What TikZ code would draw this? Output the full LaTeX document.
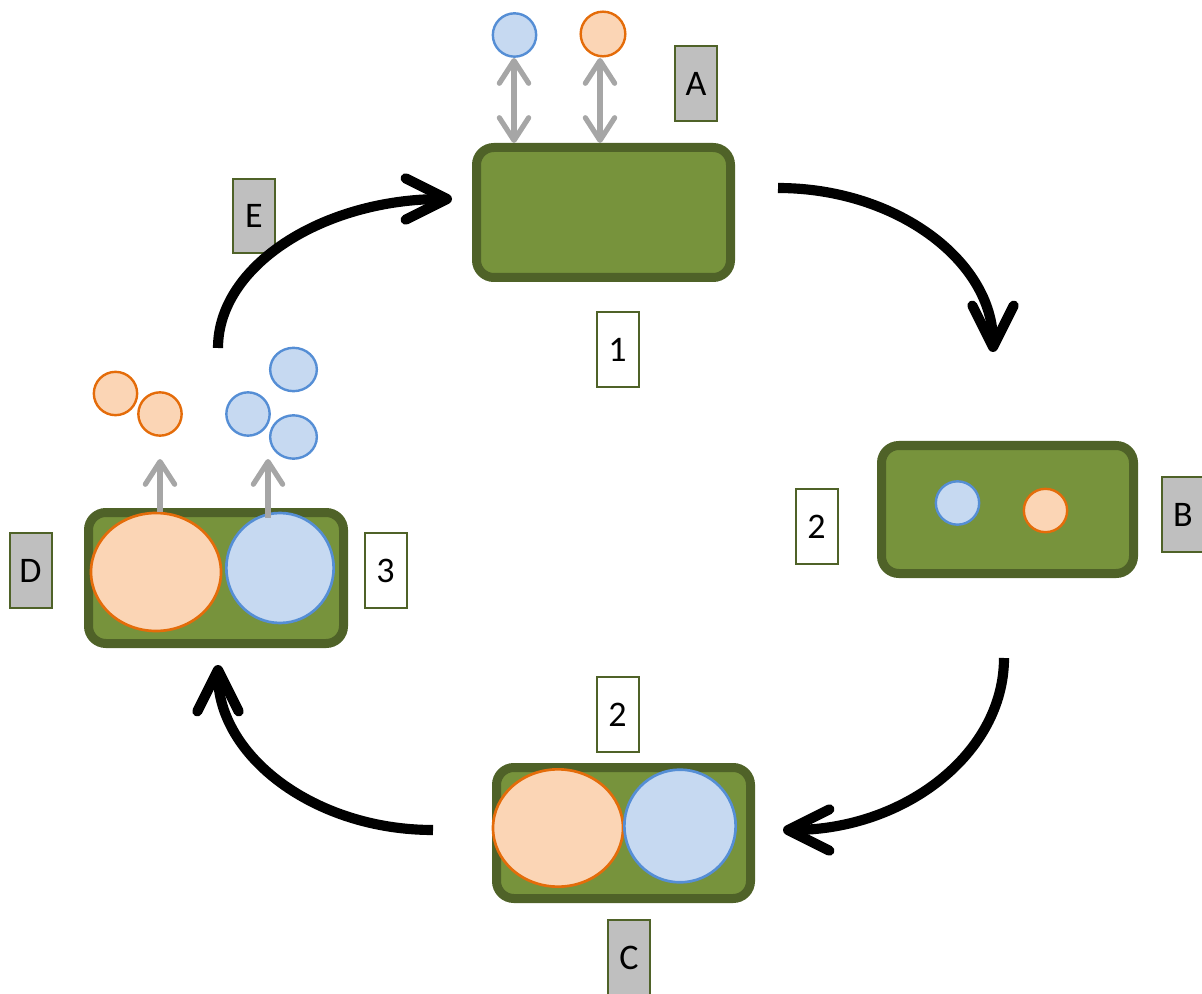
\documentclass[tikz,border=0pt]{standalone}
\usepackage{fontspec}
\setmainfont{Carlito}
\usetikzlibrary{arrows.meta,shapes.geometric}
\definecolor{gfill}{HTML}{77933C}
\definecolor{gdark}{HTML}{4F6228}
\definecolor{bfill}{HTML}{C6D9F1}
\definecolor{bline}{HTML}{558ED5}
\definecolor{ofill}{HTML}{FBD5B5}
\definecolor{oline}{HTML}{E46C0A}
\definecolor{lgray}{HTML}{BFBFBF}
\definecolor{agray}{HTML}{A6A6A6}
\begin{document}
\begin{tikzpicture}[x=0.75pt,y=-0.75pt,
  cell/.style={draw=gdark, fill=gfill, line width=6.75pt, rounded corners=13pt,
    inner sep=0pt, minimum width=190.5pt, minimum height=97.5pt},
  lab/.style={draw=gdark, line width=1.5pt, minimum width=31.5pt, minimum height=56pt,
    inner sep=0pt, font=\fontsize{27}{30}\selectfont},
  glab/.style={lab, fill=lgray},
  wlab/.style={lab, fill=white},
  bdot/.style={ellipse, draw=bline, fill=bfill, line width=1.8pt, inner sep=0pt,
    minimum width=32.5pt, minimum height=32.5pt},
  odot/.style={ellipse, draw=oline, fill=ofill, line width=1.8pt, inner sep=0pt,
    minimum width=32.5pt, minimum height=32.5pt},
  bbig/.style={ellipse, draw=bline, fill=bfill, line width=2pt, inner sep=0pt},
  obig/.style={ellipse, draw=oline, fill=ofill, line width=2pt, inner sep=0pt},
  cycarrow/.style={line width=7.6pt, draw=black,
    -{Straight Barb[length=31pt, width=31pt, round]}},
  garrow/.style={line width=3.9pt, draw=agray,
    -{Straight Barb[length=17pt, width=22pt, round]}},
  gdarrow/.style={line width=3.9pt, draw=agray,
    {Straight Barb[length=17pt, width=22pt, round]}-{Straight Barb[length=17pt, width=22pt, round]}}
]
\useasboundingbox (0,0) rectangle (1202,994);

% cells
\node[cell] (c1) at (603.5,212.5) {};
\node[cell, minimum width=189pt, minimum height=96pt] (c2) at (1007.5,509.5) {};
\node[cell, minimum height=98.25pt] (c3) at (623.5,833) {};
\node[cell, minimum width=191.25pt, minimum height=98.25pt] (c4) at (216,578) {};

% top small particles
\node[bdot] (tb) at (514.5,35) {};
\node[odot, minimum width=33.5pt, minimum height=33.5pt] (to) at (603,34) {};
\coordinate (tbs) at (514,58);
\coordinate (tos) at (600,58);
\draw[gdarrow] (tbs) -- (tbs |- c1.north);
\draw[gdarrow] (tos) -- (tos |- c1.north);

% cell B particles
\node[bdot] (bb) at (957.5,503) {};
\node[odot] (bo) at (1045.5,510.5) {};

% cell C big particles
\node[obig, minimum width=97.5pt, minimum height=88pt] (co) at (558,828) {};
\node[bbig, minimum width=83.5pt, minimum height=84.5pt] (cb) at (680,826) {};

% cell D big particles
\node[obig, minimum width=97.5pt, minimum height=88.5pt] (do) at (156,572) {};
\node[bbig, minimum width=80.5pt, minimum height=82.5pt] (db) at (280,568) {};

% released particles
\node[odot] (r1) at (115.5,393.5) {};
\node[odot] (r2) at (160,414) {};
\node[bdot, minimum width=35pt, minimum height=32.5pt] (r3) at (293.5,369.5) {};
\node[bdot] (r4) at (248,414) {};
\node[bdot, minimum width=35pt, minimum height=32.5pt] (r5) at (293.5,437) {};

\coordinate (ua) at (160,512);
\coordinate (ub) at (268,518);
\coordinate (uat) at (160,459);
\coordinate (ubt) at (268,459);
\draw[garrow] (ua) -- (uat);
\draw[garrow] (ub) -- (ubt);

% labels
\node[glab] (lA) at (696,83.5) {A};
\node[wlab] (l1) at (617.5,349.5) {1};
\node[wlab] (l2a) at (816.5,526.5) {2};
\node[glab] (lB) at (1183,514.5) {B};
\node[wlab] (l2b) at (617.5,714.5) {2};
\node[glab] (lC) at (629,957.5) {C};
\node[glab] (lD) at (30.5,570.5) {D};
\node[wlab] (l3) at (385.5,570.5) {3};
\node[glab] (lE) at (254,216) {E};

% cycle arrows
\coordinate (a1s) at (218,348);
\coordinate (a1e) at (452,199);
\coordinate (a2s) at (778,188);
\coordinate (a2e) at (993,352);
\coordinate (a3s) at (1004,658);
\coordinate (a3e) at (783,830);
\coordinate (a4s) at (433,830);
\coordinate (a4e) at (218,665);
\draw[cycarrow] (a1s) .. controls (218,265.7) and (322.8,199) .. (a1e);
\draw[cycarrow] (a2s) .. controls (896.7,188) and (993,261.4) .. (a2e);
\draw[cycarrow] (a3s) .. controls (1004,753) and (905,830) .. (a3e);
\draw[cycarrow] (a4s) .. controls (314.3,830) and (218,756) .. (a4e);
\end{tikzpicture}
\end{document}
